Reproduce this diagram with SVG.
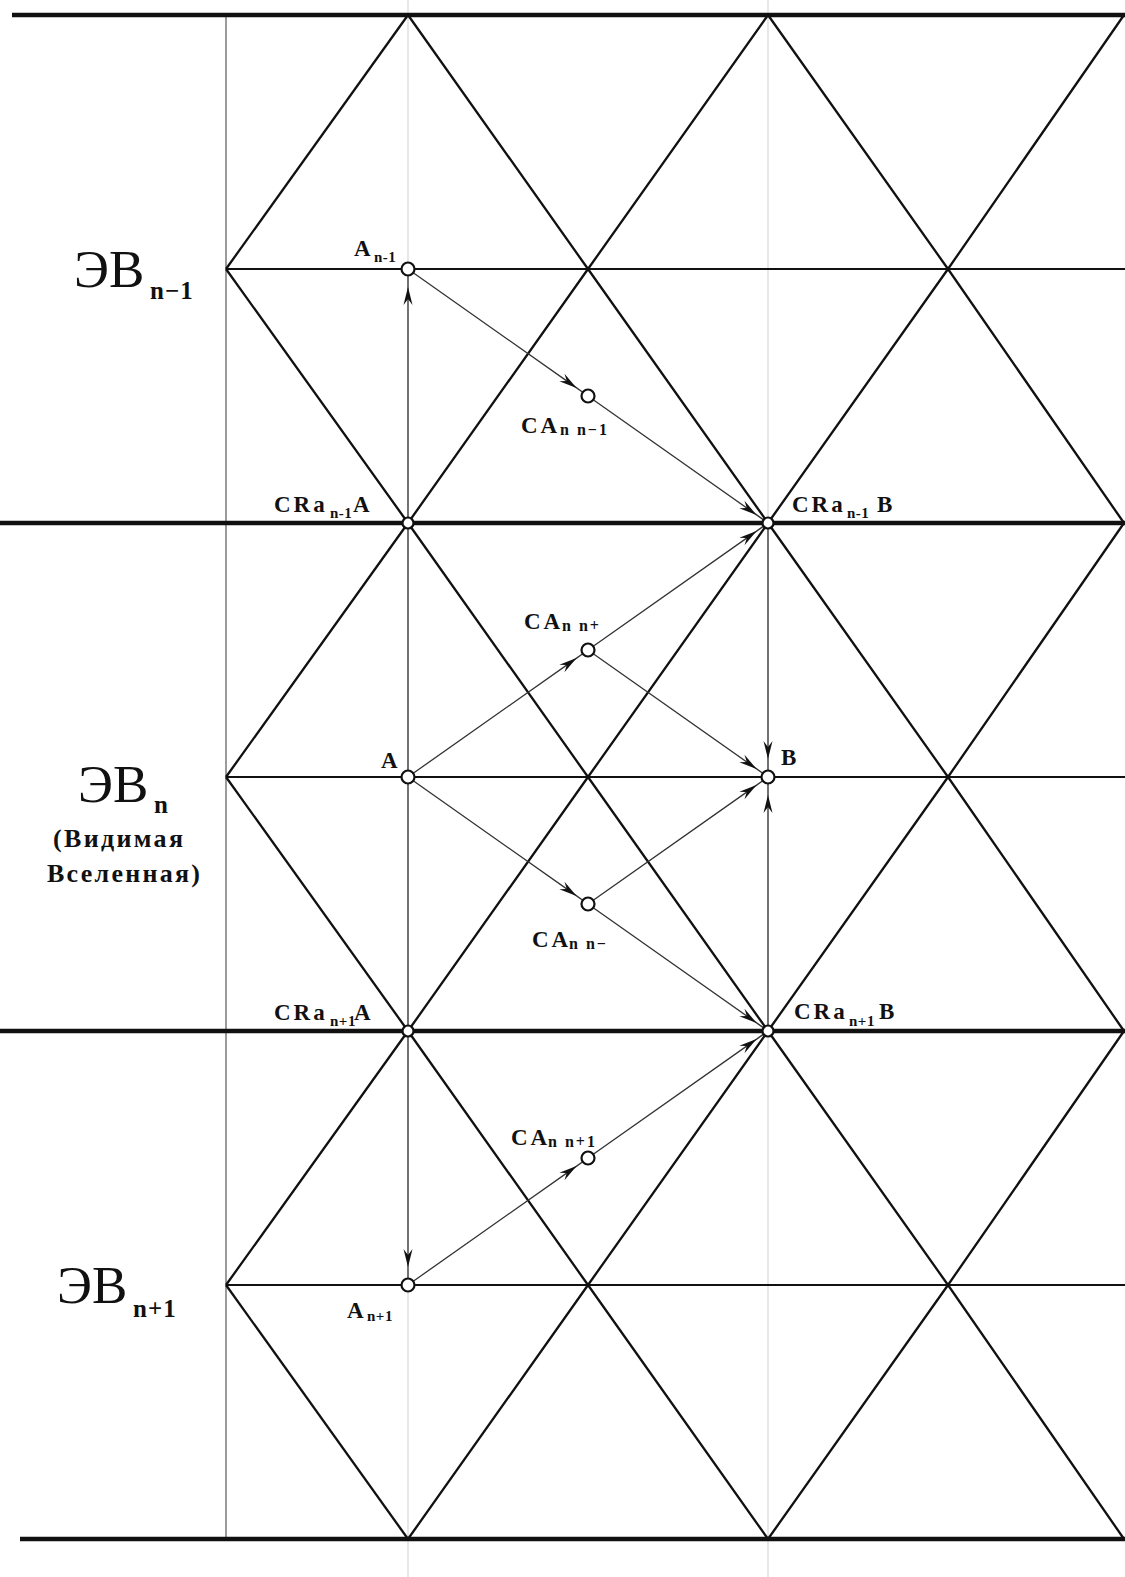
<svg xmlns="http://www.w3.org/2000/svg" width="1125" height="1577" viewBox="0 0 1125 1577">
<style>
.thick{stroke:#111;stroke-width:4.5;fill:none;stroke-linecap:butt}
.thin{stroke:#111;stroke-width:2.2;fill:none}
.diag{stroke:#111;stroke-width:2.3;fill:none;stroke-linejoin:miter}
.faint{stroke:#cfcfcf;stroke-width:1}
.guide{stroke:#666;stroke-width:1.3}
.conn{stroke:#333;stroke-width:1.3;fill:none;marker-mid:url(#ah)}
.node{fill:#fff;stroke:#111;stroke-width:2.2}
.lbl{font-family:"Liberation Serif","DejaVu Serif",serif;font-weight:bold;font-size:23px;fill:#111;letter-spacing:3px}
.sub{font-size:15px;letter-spacing:0.5px}
.csub{font-size:16px;letter-spacing:2px}
.big{font-family:"Liberation Serif","DejaVu Serif",serif;font-size:53px;fill:#111}
.bsub{font-size:25px;font-weight:bold;letter-spacing:1px}
.note{font-family:"Liberation Serif","DejaVu Serif",serif;font-weight:bold;font-size:26px;fill:#111}
</style>
<defs>
<marker id="ah" markerUnits="userSpaceOnUse" markerWidth="20" markerHeight="12" viewBox="-19 -6 20 12" refX="0" refY="0" orient="auto">
<path d="M0,0 L-18,-4.5 L-12,0 L-18,4.5 Z" fill="#111"/>
</marker>
</defs>
<g id="grid">
<line class="faint" x1="408" y1="0" x2="408" y2="1577"/>
<line class="faint" x1="768" y1="0" x2="768" y2="1577"/>
<line class="guide" x1="226" y1="15" x2="226" y2="1539"/>
<line class="thick" x1="12" y1="15" x2="1125" y2="15"/>
<line class="thick" x1="0" y1="523" x2="1125" y2="523"/>
<line class="thick" x1="0" y1="1031" x2="1125" y2="1031"/>
<line class="thick" x1="20" y1="1539" x2="1125" y2="1539"/>
<line class="thin" x1="226" y1="269" x2="1125" y2="269"/>
<line class="thin" x1="226" y1="777" x2="1125" y2="777"/>
<line class="thin" x1="226" y1="1285" x2="1125" y2="1285"/>
<polyline class="diag" points="408,15 588,269 768,523 948,777 1124,1031"/>
<polyline class="diag" points="768,15 948,269 1124,523"/>
<polyline class="diag" points="226,269 408,523 588,777 768,1031 948,1285 1124,1539"/>
<polyline class="diag" points="226,777 408,1031 588,1285 768,1539"/>
<polyline class="diag" points="226,1285 408,1539"/>
<polyline class="diag" points="408,15 226,269"/>
<polyline class="diag" points="768,15 588,269 408,523 226,777"/>
<polyline class="diag" points="1124,15 948,269 768,523 588,777 408,1031 226,1285"/>
<polyline class="diag" points="1124,523 948,777 768,1031 588,1285 408,1539"/>
<polyline class="diag" points="1124,1031 948,1285 768,1539"/>
</g>
<g id="connectors">
<path class="conn" d="M408,771 L408,287 L408,275"/>
<path class="conn" d="M408,783 L408,1267 L408,1279"/>
<path class="conn" d="M412.9,272.5 L576.6,387.9 L583.1,392.5"/>
<path class="conn" d="M592.9,399.5 L756.6,514.9 L763.9,520.1"/>
<path class="conn" d="M412.9,773.5 L576.6,658.1 L583.1,653.5"/>
<path class="conn" d="M592.9,646.5 L756.6,531.1 L763.9,525.9"/>
<path class="conn" d="M592.9,653.5 L756.6,768.9 L763.1,773.5"/>
<path class="conn" d="M768,528 L768,759 L768,771"/>
<path class="conn" d="M412.9,780.5 L576.6,895.9 L583.1,900.5"/>
<path class="conn" d="M592.9,900.5 L756.6,785.1 L763.1,780.5"/>
<path class="conn" d="M592.9,907.5 L756.6,1022.9 L763.9,1028.1"/>
<path class="conn" d="M768,1026 L768,795 L768,783"/>
<path class="conn" d="M412.9,1281.5 L576.6,1166.1 L583.1,1161.5"/>
<path class="conn" d="M592.9,1154.5 L756.6,1039.1 L763.9,1033.9"/>
</g>
<g id="label-EB-n-1">
<text class="big" x="74" y="287">ЭВ<tspan class="bsub" x="150" y="299">n−1</tspan></text>
</g>
<g id="label-EB-n">
<text class="big" x="78" y="802" font-size="55">ЭВ<tspan class="bsub" x="154" y="813">n</tspan></text>
<text class="note" x="53" y="847" textLength="130" lengthAdjust="spacing">(Видимая</text>
<text class="note" x="47" y="882" textLength="153" lengthAdjust="spacing">Вселенная)</text>
</g>
<g id="label-EB-n+1">
<text class="big" x="57" y="1303">ЭВ<tspan class="bsub" x="133" y="1317">n+1</tspan></text>
</g>
<g id="node-A-n-1">
<circle class="node" cx="408" cy="269" r="6.5"/>
<text class="lbl" x="354" y="256" font-size="20" letter-spacing="0">A<tspan class="sub" x="374" y="262" letter-spacing="0">n-1</tspan></text>
</g>
<g id="node-CA-n-n-1">
<circle class="node" cx="588" cy="396" r="6.5"/>
<text class="lbl" x="521" y="433">CA<tspan class="csub" x="560" y="435">n n−1</tspan></text>
</g>
<g id="node-CRa-n-1-A">
<circle class="node" cx="408" cy="523" r="5.5"/>
<text class="lbl" x="274" y="512">CRa<tspan class="sub" x="330" y="518">n-1</tspan><tspan x="353" y="512">A</tspan></text>
</g>
<g id="node-CRa-n-1-B">
<circle class="node" cx="768" cy="523" r="5.5"/>
<text class="lbl" x="792" y="512">CRa<tspan class="sub" x="847" y="518">n-1</tspan><tspan x="877" y="512">B</tspan></text>
</g>
<g id="node-CA-n-n-plus">
<circle class="node" cx="588" cy="650" r="6.5"/>
<text class="lbl" x="524" y="629">CA<tspan class="csub" x="562" y="631">n n+</tspan></text>
</g>
<g id="node-A">
<circle class="node" cx="408" cy="777" r="6.5"/>
<text class="lbl" x="381" y="768" font-size="19">A</text>
</g>
<g id="node-B">
<circle class="node" cx="768" cy="777" r="6.5"/>
<text class="lbl" x="781" y="765" font-size="19">B</text>
</g>
<g id="node-CA-n-n-minus">
<circle class="node" cx="588" cy="904" r="6.5"/>
<text class="lbl" x="532" y="947">CA<tspan class="csub" x="569" y="949">n n−</tspan></text>
</g>
<g id="node-CRa-n+1-A">
<circle class="node" cx="408" cy="1031" r="5.5"/>
<text class="lbl" x="274" y="1020">CRa<tspan class="sub" x="330" y="1026">n+1</tspan><tspan x="354" y="1020">A</tspan></text>
</g>
<g id="node-CRa-n+1-B">
<circle class="node" cx="768" cy="1031" r="5.5"/>
<text class="lbl" x="794" y="1019">CRa<tspan class="sub" x="849" y="1026">n+1</tspan><tspan x="879" y="1019">B</tspan></text>
</g>
<g id="node-CA-n-n+1">
<circle class="node" cx="588" cy="1158" r="6.5"/>
<text class="lbl" x="511" y="1145">CA<tspan class="csub" x="548" y="1147">n n+1</tspan></text>
</g>
<g id="node-A-n+1">
<circle class="node" cx="408" cy="1285" r="6.5"/>
<text class="lbl" x="347" y="1318" font-size="20" letter-spacing="0">A<tspan class="sub" x="367" y="1321" letter-spacing="0">n+1</tspan></text>
</g>
</svg>
